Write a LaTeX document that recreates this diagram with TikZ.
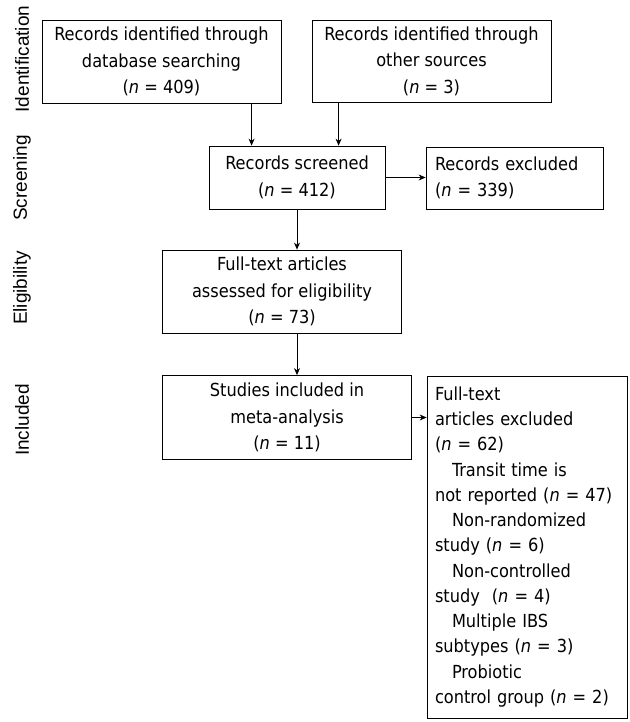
\documentclass[tikz,border=0pt]{standalone}
\usepackage{fontspec}
\setmainfont{DejaVu Sans Condensed}
\newfontfamily\stagefont{Liberation Sans}
\usetikzlibrary{arrows.meta}
\tikzset{
  box/.style={draw, line width=0.8pt, inner sep=0pt, align=center, font=\fontsize{18}{26.5}\selectfont},
  leftbox/.style={box, align=left},
  stage/.style={rotate=90, font=\stagefont\fontsize{19}{21}\selectfont},
  flow/.style={line width=0.8pt, -{Stealth[length=7pt,width=6pt]}}
}

\begin{document}
\begin{tikzpicture}[x=1pt, y=-1pt]
\useasboundingbox (0,0) rectangle (629,722);
% stages
\node[stage] (sid) at (22,59) {Identification};
\node[stage] (sscr) at (22,178) {Screening};
\node[stage] (selig) at (22,288) {Eligibility};
\node[stage] (sinc) at (22,420) {Included};
% boxes
\node[box, minimum width=239pt, minimum height=83pt] (db) at (161.5,61.5) {Records identified through\\database searching\\(\textit{n} = 409)};
\node[box, minimum width=239pt, minimum height=82pt] (oth) at (431.5,61) {Records identified through\\other sources\\(\textit{n} = 3)};
\node[box, minimum width=176pt, minimum height=63pt] (scr) at (297,177.5) {Records screened\\(\textit{n} = 412)};
\node[leftbox, text width=159pt, inner xsep=9pt, minimum height=62pt] (exc) at (514.5,178) {Records excluded\\(\textit{n} = 339)};
\node[box, minimum width=239pt, minimum height=83pt] (ft) at (282,291.5) {Full-text articles\\assessed for eligibility\\(\textit{n} = 73)};
\node[box, minimum width=249pt, minimum height=84pt] (st) at (287,417.5) {Studies included in\\meta-analysis\\(\textit{n} = 11)};
\node[leftbox, text width=184pt, inner xsep=8pt, minimum height=342pt, font=\fontsize{18}{25.25}\selectfont] (exc2) at (527,547) {Full-text\\articles excluded\\(\textit{n} = 62)\\
\hspace*{17pt}Transit time is\\not reported (\textit{n} = 47)\\
\hspace*{17pt}Non-randomized\\study (\textit{n} = 6)\\
\hspace*{17pt}Non-controlled\\study~ (\textit{n} = 4)\\
\hspace*{17pt}Multiple IBS\\subtypes (\textit{n} = 3)\\
\hspace*{17pt}Probiotic\\control group (\textit{n} = 2)};
% arrows
\coordinate (scrin1) at ([xshift=43pt]scr.north west);
\coordinate (scrin2) at ([xshift=130pt]scr.north west);
\draw[flow] (db.south -| scrin1) -- (scrin1);
\draw[flow] (oth.south -| scrin2) -- (scrin2);
\draw[flow] (scr.east) -- (scr.east -| exc.west);
\draw[flow] (scr.south) -- (scr.south |- ft.north);
\draw[flow] (ft.south -| scr.south) -- (scr.south |- st.north);
\draw[flow] (st.east) -- (st.east -| exc2.west);
\end{tikzpicture}
\end{document}
